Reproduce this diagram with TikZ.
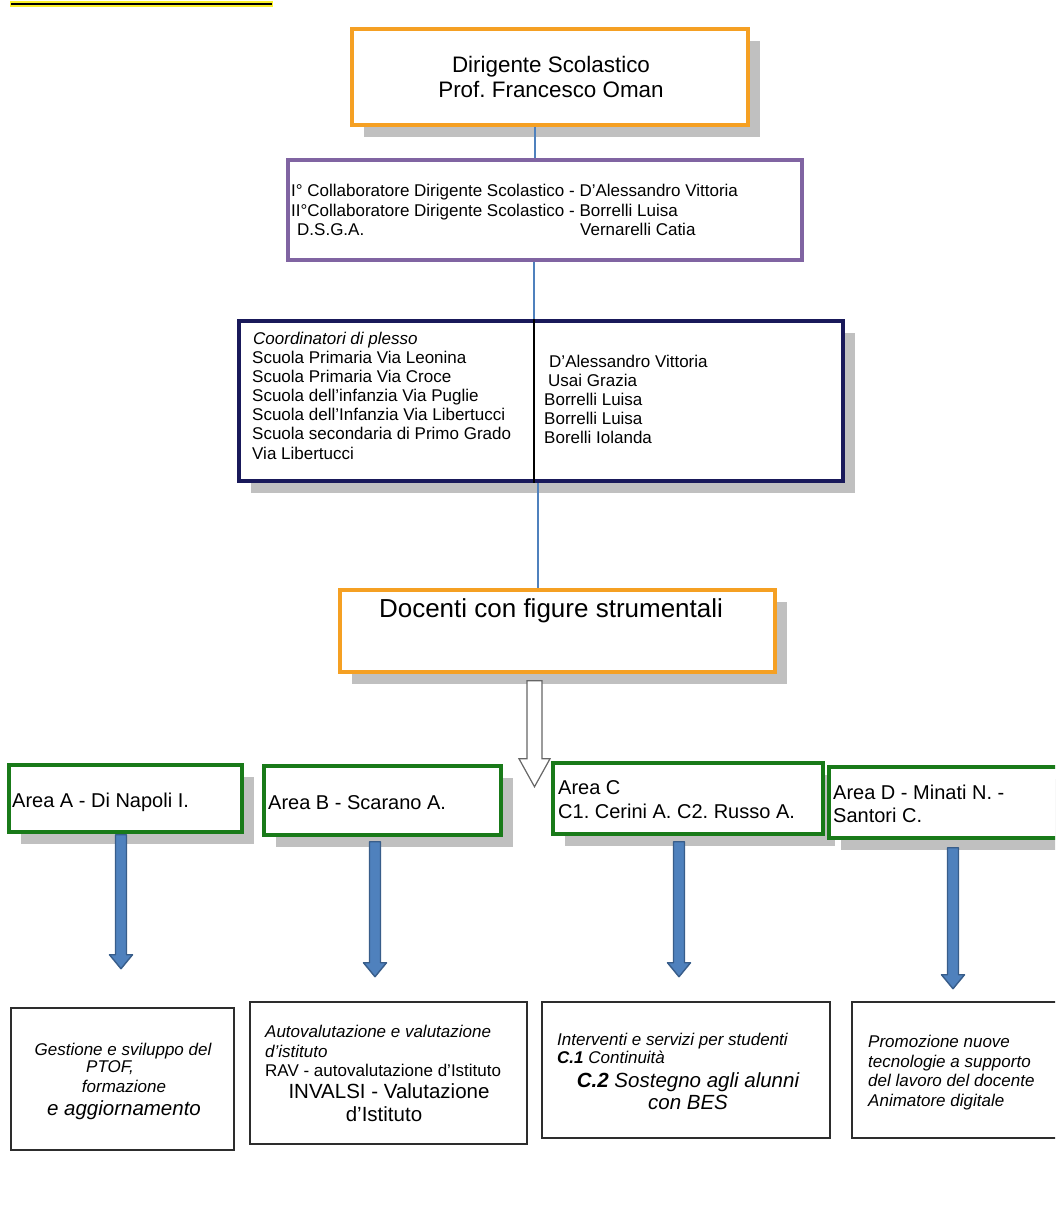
\documentclass[tikz,border=0pt]{standalone}
\usepackage{fontspec}
\setmainfont{Liberation Sans}
\usetikzlibrary{calc}
\definecolor{orng}{RGB}{245,160,35}
\definecolor{purp}{RGB}{128,100,162}
\definecolor{navy}{RGB}{25,25,90}
\definecolor{grn}{RGB}{25,122,25}
\definecolor{shgray}{RGB}{192,192,192}
\definecolor{lnblue}{RGB}{79,129,189}
\definecolor{arblue}{RGB}{79,129,189}
\definecolor{aredge}{RGB}{56,93,138}
\definecolor{boxedge}{RGB}{45,45,45}
\definecolor{hlyellow}{RGB}{250,240,40}
\newcommand\myfs{\fontsize{17}{20}\selectfont}
\newcommand\myfm{\fontsize{20}{24}\selectfont}
\newcommand\myfl{\fontsize{20.5}{24}\selectfont}
\frenchspacing
\begin{document}
\frenchspacing
\begin{tikzpicture}[x=1pt,y=-1pt,
  gshadow/.style={preaction={fill=shgray,draw=none,transform canvas={xshift=12pt,yshift=-12pt}}},
  obox/.style={draw=orng,line width=3.5pt,fill=white,gshadow,inner sep=0pt},
  pbox/.style={draw=purp,line width=3.2pt,fill=white,inner sep=0pt},
  nbox/.style={draw=navy,line width=4pt,fill=white,gshadow,inner sep=0pt},
  gbox/.style={draw=grn,line width=3.5pt,fill=white,gshadow,inner sep=0pt},
  wbox/.style={draw=boxedge,line width=1.2pt,fill=white,inner sep=0pt},
  conn/.style={draw=lnblue,line width=1.1pt},
  lbl/.style={inner sep=0pt,anchor=base west},
  ctr/.style={inner sep=0pt,anchor=base},
  barrow/.style={fill=arblue,draw=aredge,line width=1.4pt,line join=round},
  harrow/.style={fill=white,draw=gray!80!black,line width=1.2pt,line join=miter},
  pics/bdown/.style={code={\draw[barrow] (-5.5,0) -- (-5.5,#1-14) -- (-11.5,#1-14) -- (0,#1) -- (11.5,#1-14) -- (5.5,#1-14) -- (5.5,0) -- cycle;}},
  pics/hdown/.style={code={\draw[harrow] (-7.5,0) -- (-7.5,78) -- (-15.5,78) -- (0,106) -- (15.5,78) -- (7.5,78) -- (7.5,0) -- cycle;}}
]
\clip (0,0) rectangle (1055,1230);
\fill[white] (0,0) rectangle (1055,1230);

% top decoration line
\draw[hlyellow,line width=6pt] (10,4) -- (273,4);
\draw[black,line width=2.6pt] (11,4) -- (272,4);

% main boxes
\node[obox,minimum width=396pt,minimum height=96pt] (dir) at (550,77) {};
\node[pbox,minimum width=514pt,minimum height=100pt] (coll) at (545,210) {};
\node[nbox,minimum width=604pt,minimum height=160pt] (coord) at (541,401) {};
\node[obox,minimum width=435pt,minimum height=82pt] (doc) at (557.5,631) {};

% connectors
\draw[conn] (dir.south -| 535,0) -- (coll.north -| 535,0);
\draw[conn] (coll.south -| 534,0) -- (coord.north -| 534,0);
\draw[conn] (coord.south -| 538,0) -- (doc.north -| 538,0);
\draw[black,line width=1.2pt] (coord.north -| 534,0) -- (coord.south -| 534,0);

% box 1 text
\node[ctr,font=\fontsize{22.4}{26}\selectfont] (d1) at (551,73) {Dirigente Scolastico};
\node[ctr,font=\fontsize{22.4}{26}\selectfont] (d2) at (551,98) {Prof. Francesco Oman};

% box 2 text
\node[lbl,font=\myfs] (c1) at (291,197) {I° Collaboratore Dirigente Scolastico - D’Alessandro Vittoria};
\node[lbl,font=\myfs] (c2) at (291,217) {II°Collaboratore Dirigente Scolastico - Borrelli Luisa};
\node[lbl,font=\myfs] (c3) at (297,236) {D.S.G.A.};
\node[lbl,font=\myfs] (c4) at (580,236) {Vernarelli Catia};

% box 3 text
\node[lbl,font=\myfs\itshape] (p0) at (253,344) {Coordinatori di plesso};
\node[lbl,font=\myfs] (p1) at (252,363) {Scuola Primaria Via Leonina};
\node[lbl,font=\myfs] (p2) at (252,382) {Scuola Primaria Via Croce};
\node[lbl,font=\myfs] (p3) at (252,401) {Scuola dell’infanzia Via Puglie};
\node[lbl,font=\myfs] (p4) at (252,420) {Scuola dell’Infanzia Via Libertucci};
\node[lbl,font=\myfs] (p5) at (252,439) {Scuola secondaria di Primo Grado};
\node[lbl,font=\myfs] (p6) at (252,459) {Via Libertucci};
\node[lbl,font=\myfs] (n1) at (549,367) {D’Alessandro Vittoria};
\node[lbl,font=\myfs] (n2) at (548,386) {Usai Grazia};
\node[lbl,font=\myfs] (n3) at (544,405) {Borrelli Luisa};
\node[lbl,font=\myfs] (n4) at (544,424) {Borrelli Luisa};
\node[lbl,font=\myfs] (n5) at (544,443) {Borelli Iolanda};

% box 4 text
\node[ctr,font=\fontsize{26}{30}\selectfont] (dc) at (551,617) {Docenti con figure strumentali};

% hollow arrow
\coordinate (hA) at ($(doc.south -| 534.5,0)+(0,7)$);
\pic at (hA) {hdown};

% area boxes
\node[gbox,minimum width=233pt,minimum height=67pt] (aA) at (125.5,798.5) {};
\node[gbox,minimum width=237pt,minimum height=69pt] (aB) at (382.5,800.5) {};
\node[gbox,minimum width=270pt,minimum height=71pt] (aC) at (688,798.5) {};
\node[gbox,minimum width=233pt,minimum height=71pt] (aD) at (945.5,802.5) {};

\node[lbl,font=\myfm] (tA) at (12,807) {Area A - Di Napoli I.};
\node[lbl,font=\myfm] (tB) at (268,809) {Area B - Scarano A.};
\node[lbl,font=\myfm] (tC1) at (558,794) {Area C};
\node[lbl,font=\myfm] (tC2) at (558,818) {C1. Cerini A. C2. Russo A.};
\node[lbl,font=\myfm] (tD1) at (833,799) {Area D - Minati N. -};
\node[lbl,font=\myfm] (tD2) at (833,822) {Santori C.};

% blue arrows
\pic at ($(aA.south -| 121,0)+(0,1)$) {bdown=134};
\pic at ($(aB.south -| 375,0)+(0,5)$) {bdown=135};
\pic at ($(aC.south -| 679,0)+(0,6)$) {bdown=135};
\pic at ($(aD.south -| 953,0)+(0,8)$) {bdown=141};

% bottom boxes
\node[wbox,minimum width=223pt,minimum height=142pt] (bA) at (122.5,1079) {};
\node[wbox,minimum width=277pt,minimum height=142pt] (bB) at (388.5,1073) {};
\node[wbox,minimum width=288pt,minimum height=136pt] (bC) at (686,1070) {};
\node[wbox,minimum width=210pt,minimum height=136pt] (bD) at (957,1070) {};

\node[ctr,font=\myfs\itshape] (g1) at (123,1055) {Gestione e sviluppo del};
\node[ctr,font=\myfs\itshape] (g2) at (110,1072) {PTOF,};
\node[ctr,font=\myfs\itshape] (g3) at (124,1092) {formazione};
\node[ctr,font=\myfl\itshape] (g4) at (124,1115) {e aggiornamento};

\node[lbl,font=\myfs\itshape] (v1) at (265,1037) {Autovalutazione e valutazione};
\node[lbl,font=\myfs\itshape] (v2) at (265,1057) {d’istituto};
\node[lbl,font=\myfs] (v3) at (265,1076) {RAV - autovalutazione d’Istituto};
\node[ctr,font=\myfl] (v4) at (389,1098) {INVALSI - Valutazione};
\node[ctr,font=\myfl] (v5) at (384,1121) {d’Istituto};

\node[lbl,font=\myfs\itshape] (s1) at (557,1045) {Interventi e servizi per studenti};
\node[lbl,font=\myfs\itshape] (s2) at (557,1063) {\textbf{C.1} Continuità};
\node[ctr,font=\myfl\itshape] (s3) at (688,1087) {\textbf{C.2} Sostegno agli alunni};
\node[ctr,font=\myfl\itshape] (s4) at (688,1109) {con BES};

\node[lbl,font=\myfs\itshape] (m1) at (868,1047) {Promozione nuove};
\node[lbl,font=\myfs\itshape] (m2) at (868,1067) {tecnologie a supporto};
\node[lbl,font=\myfs\itshape] (m3) at (868,1086) {del lavoro del docente};
\node[lbl,font=\myfs\itshape] (m4) at (868,1106) {Animatore digitale};
\end{tikzpicture}
\end{document}
